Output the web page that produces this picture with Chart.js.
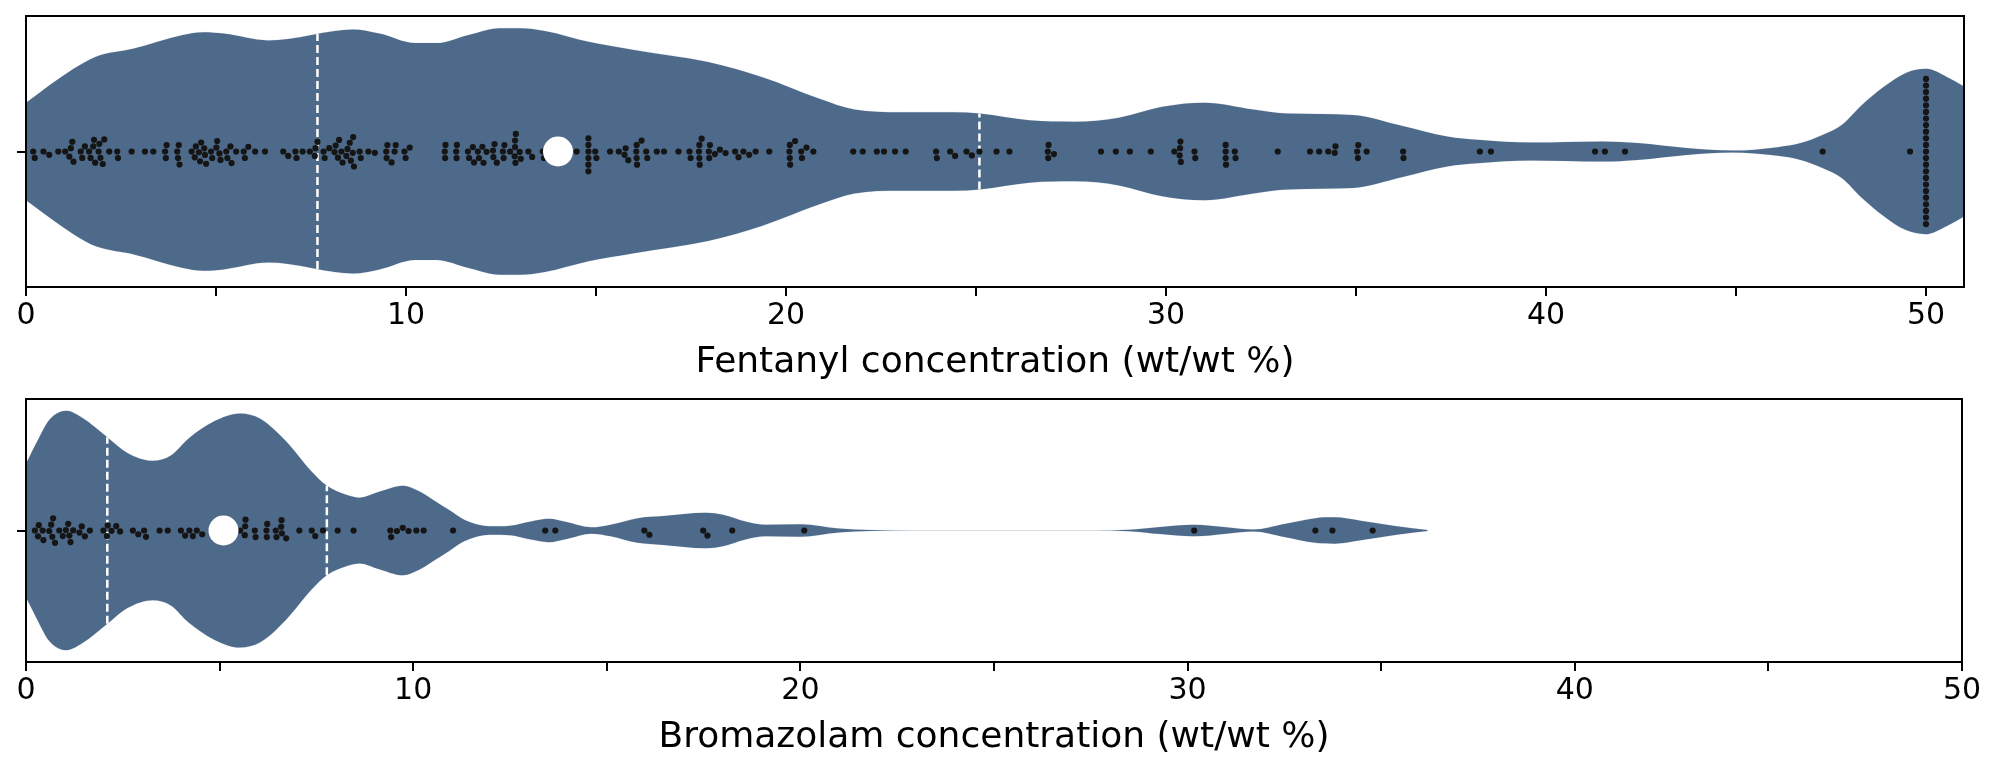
<!DOCTYPE html>
<html>
<head>
<meta charset="utf-8">
<script src="https://cdn.jsdelivr.net/npm/chart.js@4.4.1/dist/chart.umd.min.js"></script>
<style>
  body { margin: 0; background: #fff; }
  #wrap { position: relative; width: 2000px; height: 768px; }
  .panel { position: absolute; left: 0; width: 2000px; height: 384px; }
</style>
</head>
<body>
<div id="wrap">
  <div class="panel" style="top:0"><canvas id="fentanylChart" width="2000" height="384"></canvas></div>
  <div class="panel" style="top:384px"><canvas id="bromazolamChart" width="2000" height="384"></canvas></div>
</div>
<script>
// violin outline: half-width of the density at each grid position (relative to panel half-height)
const fentanylGrid = [-1.5, 0, 1.25, 1.84, 2.84, 4.13, 4.67, 5.2, 6.37, 6.9, 8.13, 8.6, 9.3, 10.24, 10.8, 11.65, 12.47, 13.0, 13.65, 14.8, 16.0, 17.95, 19.36, 20.88, 21.8, 23.0, 24.4, 25.1, 26.4, 27.6, 28.76, 29.9, 31.0, 32.3, 33.2, 34.9, 36.2, 37.4, 38.2, 39.6, 41.5, 42.4, 43.7, 44.9, 46.1, 46.7, 47.26, 47.8, 48.3, 48.9, 49.47, 50.0, 50.55, 51.0, 51.6];
const fentanylDensity = [0.05, 0.36, 0.61, 0.70, 0.76, 0.86, 0.88, 0.87, 0.82, 0.83, 0.89, 0.90, 0.87, 0.80, 0.80, 0.86, 0.91, 0.91, 0.89, 0.81, 0.75, 0.66, 0.55, 0.39, 0.31, 0.29, 0.29, 0.28, 0.23, 0.22, 0.25, 0.33, 0.36, 0.31, 0.28, 0.27, 0.19, 0.11, 0.086, 0.066, 0.074, 0.062, 0.025, 0.007, 0.032, 0.062, 0.12, 0.20, 0.34, 0.48, 0.58, 0.61, 0.55, 0.48, 0.30];
const fentanylValues = [
  0.19, 0.23, 0.46, 0.61, 0.85, 1.03, 1.14, 1.18, 1.22, 1.25, 1.44, 1.48, 1.55, 1.66, 1.70, 1.77, 1.79, 1.82, 1.91, 1.93,
  1.96, 2.02, 2.06, 2.19, 2.40, 2.42, 2.78, 3.13, 3.35, 3.66, 3.68, 3.70, 3.98, 4.00, 4.02, 4.04, 4.36, 4.44, 4.47, 4.55,
  4.58, 4.61, 4.69, 4.71, 4.74, 4.87, 4.90, 5.01, 5.03, 5.09, 5.12, 5.27, 5.30, 5.38, 5.41, 5.53, 5.73, 5.76, 5.85, 6.03,
  6.29, 6.77, 6.90, 7.09, 7.12, 7.28, 7.47, 7.60, 7.62, 7.67, 7.83, 7.86, 7.98, 8.12, 8.15, 8.21, 8.24, 8.30, 8.33, 8.43,
  8.46, 8.52, 8.55, 8.60, 8.61, 8.63, 8.78, 8.81, 9.01, 9.18, 9.48, 9.49, 9.51, 9.62, 9.70, 9.73, 9.96, 9.99, 10.10,
  11.02, 11.03, 11.04, 11.32, 11.33, 11.34, 11.63, 11.66, 11.76, 11.79, 11.89, 11.92, 12.01, 12.04, 12.12, 12.29, 12.30,
  12.33, 12.39, 12.55, 12.57, 12.59, 12.74, 12.86, 12.87, 12.87, 12.88, 12.89, 12.99, 13.02, 13.22, 13.32, 13.60, 13.63,
  14.49, 14.80, 14.80, 14.80, 14.80, 14.80, 14.80, 14.98, 15.01, 15.37, 15.60, 15.75, 15.78, 15.85, 16.06, 16.07, 16.07,
  16.08, 16.20, 16.32, 16.35, 16.60, 16.79, 17.17, 17.46, 17.49, 17.71, 17.72, 17.72, 17.73, 17.78, 17.97, 17.98, 18.00,
  18.13, 18.26, 18.41, 18.66, 18.75, 18.88, 19.03, 19.20, 19.56, 20.09, 20.10, 20.10, 20.11, 20.24, 20.40, 20.42, 20.54,
  20.72, 21.77, 22.02, 22.39, 22.58, 22.87, 23.15, 23.95, 23.97, 24.32, 24.45, 24.75, 24.89, 25.09, 25.54, 25.88, 26.89,
  26.90, 26.91, 27.05, 28.29, 28.68, 29.05, 29.60, 30.22, 30.36, 30.37, 30.38, 30.39, 30.75, 30.77, 31.57, 31.57, 31.57,
  31.58, 31.81, 31.83, 32.94, 33.79, 34.03, 34.27, 34.44, 34.46, 35.03, 35.05, 35.06, 35.28, 36.24, 36.25, 38.26, 38.55,
  41.29, 41.55, 42.08, 47.28, 49.58,
  50, 50, 50, 50, 50, 50, 50, 50, 50, 50, 50, 50, 50, 50, 50, 50, 50, 50, 50, 50, 50, 50, 50
];
const fentanylMedian = 14.0;
const fentanylQuartiles = [7.67, 25.09];

const bromazolamGrid = [-0.6, 0, 0.31, 0.6, 1.04, 1.44, 2.1, 2.62, 3.28, 3.74, 4.2, 4.86, 5.52, 6.05, 6.71, 7.37, 7.77, 8.29, 8.62, 9.08, 9.74, 10.14, 10.53, 10.93, 11.33, 11.98, 12.51, 13.04, 13.5, 13.96, 14.6, 15.1, 15.8, 16.46, 17.56, 18.0, 18.58, 19.1, 20.0, 20.99, 21.8, 22.9, 25.5, 27.6, 28.48, 29.29, 30.17, 31.0, 31.7, 32.5, 33.3, 33.79, 34.47, 35.4, 36.2];
const bromazolamDensity = [0.2, 0.51, 0.69, 0.84, 0.91, 0.86, 0.71, 0.59, 0.53, 0.57, 0.70, 0.83, 0.89, 0.85, 0.68, 0.45, 0.34, 0.27, 0.25, 0.29, 0.34, 0.30, 0.23, 0.155, 0.08, 0.032, 0.037, 0.069, 0.089, 0.064, 0.024, 0.044, 0.094, 0.11, 0.135, 0.12, 0.069, 0.044, 0.048, 0.015, 0.003, 0.0005, 0.0005, 0.0005, 0.005, 0.027, 0.044, 0.024, 0.007, 0.049, 0.094, 0.10, 0.074, 0.032, 0.003];
const bromazolamValues = [
  0.23, 0.31, 0.33, 0.43, 0.45, 0.60, 0.65, 0.68, 0.70, 0.75, 0.86, 0.95, 1.03, 1.09, 1.12, 1.15, 1.22, 1.38, 1.44, 1.52,
  1.65, 2.00, 2.09, 2.11, 2.21, 2.33, 2.43, 2.76, 2.90, 3.05, 3.10, 3.45, 3.66, 4.00, 4.11, 4.22, 4.31, 4.41, 4.55,
  4.80, 5.53, 5.65, 5.66, 5.67, 5.91, 5.93, 6.21, 6.22, 6.23, 6.45, 6.47, 6.59, 6.60, 6.61, 6.72, 7.06, 7.38, 7.47, 7.67,
  8.05, 8.46, 9.41, 9.43, 9.58, 9.73, 9.88, 10.08, 10.27, 11.03, 13.41, 13.67, 15.97, 16.10, 17.49, 17.60, 18.24, 20.10,
  30.17, 33.30, 33.74, 34.78
];
const bromazolamMedian = 5.1;
const bromazolamQuartiles = [2.1, 7.77];

const xTickStep = 5;
const xLabelStep = 10;

const VIOLIN = '#4e6a8a';
const VIOLIN_EDGE = 'rgba(78, 106, 138, 0.12)';
const DOT = '#151515';
const DOT_GAP = 6.6;

Chart.defaults.font.family = "'DejaVu Sans', sans-serif";
Chart.defaults.color = '#000';

const framePlugin = {
  id: 'frame',
  afterDatasetsDraw(chart) {
    const { ctx, chartArea: a } = chart;
    ctx.save();
    ctx.strokeStyle = '#000';
    ctx.lineWidth = 2;
    ctx.strokeRect(a.left, a.top, a.right - a.left, a.bottom - a.top);
    ctx.restore();
  }
};

function densityAt(grid, density, x) {
  for (let i = 1; i < grid.length; i++) {
    if (x <= grid[i]) {
      const t = (x - grid[i - 1]) / (grid[i] - grid[i - 1]);
      return density[i - 1] + t * (density[i] - density[i - 1]);
    }
  }
  return density[density.length - 1];
}

// beeswarm: place each point as close to the centre line as possible without overlap
function swarmOffsets(xs, d) {
  const order = xs.map((x, i) => i).sort((a, b) => xs[a] - xs[b]);
  const placed = [];
  const out = new Array(xs.length);
  order.forEach(i => {
    const x = xs[i];
    const near = placed.filter(p => Math.abs(p.x - x) < d);
    const cands = [0];
    near.forEach(p => {
      const dy = Math.sqrt(d * d - (p.x - x) * (p.x - x));
      cands.push(p.y + dy, p.y - dy);
    });
    cands.sort((a, b) => Math.abs(a) - Math.abs(b));
    const y = cands.find(c => near.every(p => (p.x - x) ** 2 + (p.y - c) ** 2 >= d * d - 1e-6));
    placed.push({ x, y });
    out[i] = y;
  });
  return out;
}

function buildViolin(canvasId, opt) {
  const upper = opt.grid.map((x, i) => ({ x: x, y: opt.density[i] }));
  const lower = opt.grid.map((x, i) => ({ x: x, y: -opt.density[i] }));

  const datasets = [
    { type: 'line', data: upper, borderColor: VIOLIN_EDGE, backgroundColor: VIOLIN, borderWidth: 1, pointRadius: 0, fill: false, cubicInterpolationMode: 'monotone', clip: 0, order: 10 },
    { type: 'line', data: lower, borderColor: VIOLIN_EDGE, backgroundColor: VIOLIN, borderWidth: 1, pointRadius: 0, fill: '-1', cubicInterpolationMode: 'monotone', clip: 0, order: 10 }
  ];

  opt.quartiles.forEach(q => {
    const h = densityAt(opt.grid, opt.density, q);
    datasets.push({ type: 'line', data: [{ x: q, y: -h }, { x: q, y: h }], borderColor: '#fff', borderWidth: 2.5, borderDash: [8, 4], pointRadius: 0, fill: false, order: 5 });
  });

  datasets.push({ type: 'scatter', data: opt.values.map(v => ({ x: v, y: 0 })), backgroundColor: DOT, borderWidth: 0, pointRadius: 3.1, order: 2 });
  datasets.push({ type: 'scatter', data: [{ x: opt.median, y: 0 }], backgroundColor: '#fff', borderWidth: 0, pointRadius: 15, order: 1 });

  const chart = new Chart(document.getElementById(canvasId), {
    type: 'scatter',
    data: { datasets: datasets },
    options: {
      responsive: false,
      animation: false,
      events: [],
      layout: { padding: opt.padding },
      plugins: { legend: { display: false }, tooltip: { enabled: false } },
      scales: {
        x: {
          type: 'linear',
          min: 0,
          max: opt.xMax,
          border: { display: false },
          grid: { drawOnChartArea: false, drawTicks: true, tickLength: 9, color: '#000', lineWidth: 2 },
          ticks: {
            stepSize: xTickStep,
            includeBounds: false,
            autoSkip: false,
            maxRotation: 0,
            minRotation: 0,
            padding: 2,
            color: '#000',
            font: { size: 30 },
            callback: v => (v % xLabelStep === 0 ? String(v) : '')
          },
          title: { display: true, text: opt.title, color: '#000', font: { size: 36 }, padding: { top: 0, bottom: opt.titlePad } },
          afterFit: s => { s.height = opt.xAxisHeight; }
        },
        y: {
          type: 'linear',
          min: -1,
          max: 1,
          border: { display: false },
          grid: { drawOnChartArea: false, drawTicks: true, tickLength: 9, color: '#000', lineWidth: 2 },
          ticks: { callback: () => '' },
          afterBuildTicks: s => { s.ticks = [{ value: 0 }]; },
          afterFit: s => { s.width = 26; }
        }
      }
    },
    plugins: [framePlugin]
  });

  // spread the points into a swarm in pixel space
  const xs = chart.scales.x;
  const ys = chart.scales.y;
  const px = opt.values.map(v => xs.getPixelForValue(v));
  const offs = swarmOffsets(px, DOT_GAP);
  const y0 = ys.getPixelForValue(0);
  const dotSet = chart.data.datasets[datasets.length - 2];
  dotSet.data = opt.values.map((v, i) => ({ x: v, y: ys.getValueForPixel(y0 + offs[i]) }));
  chart.update('none');
  return chart;
}

buildViolin('fentanylChart', {
  grid: fentanylGrid,
  density: fentanylDensity,
  values: fentanylValues,
  median: fentanylMedian,
  quartiles: fentanylQuartiles,
  xMax: 51,
  title: 'Fentanyl concentration (wt/wt %)',
  padding: { left: 0, right: 36, top: 16, bottom: 0 },
  xAxisHeight: 97,
  titlePad: 0
});

buildViolin('bromazolamChart', {
  grid: bromazolamGrid,
  density: bromazolamDensity,
  values: bromazolamValues,
  median: bromazolamMedian,
  quartiles: bromazolamQuartiles,
  xMax: 50,
  title: 'Bromazolam concentration (wt/wt %)',
  padding: { left: 0, right: 38, top: 7, bottom: 0 },
  xAxisHeight: 106,
  titlePad: 9
});
</script>
</body>
</html>
